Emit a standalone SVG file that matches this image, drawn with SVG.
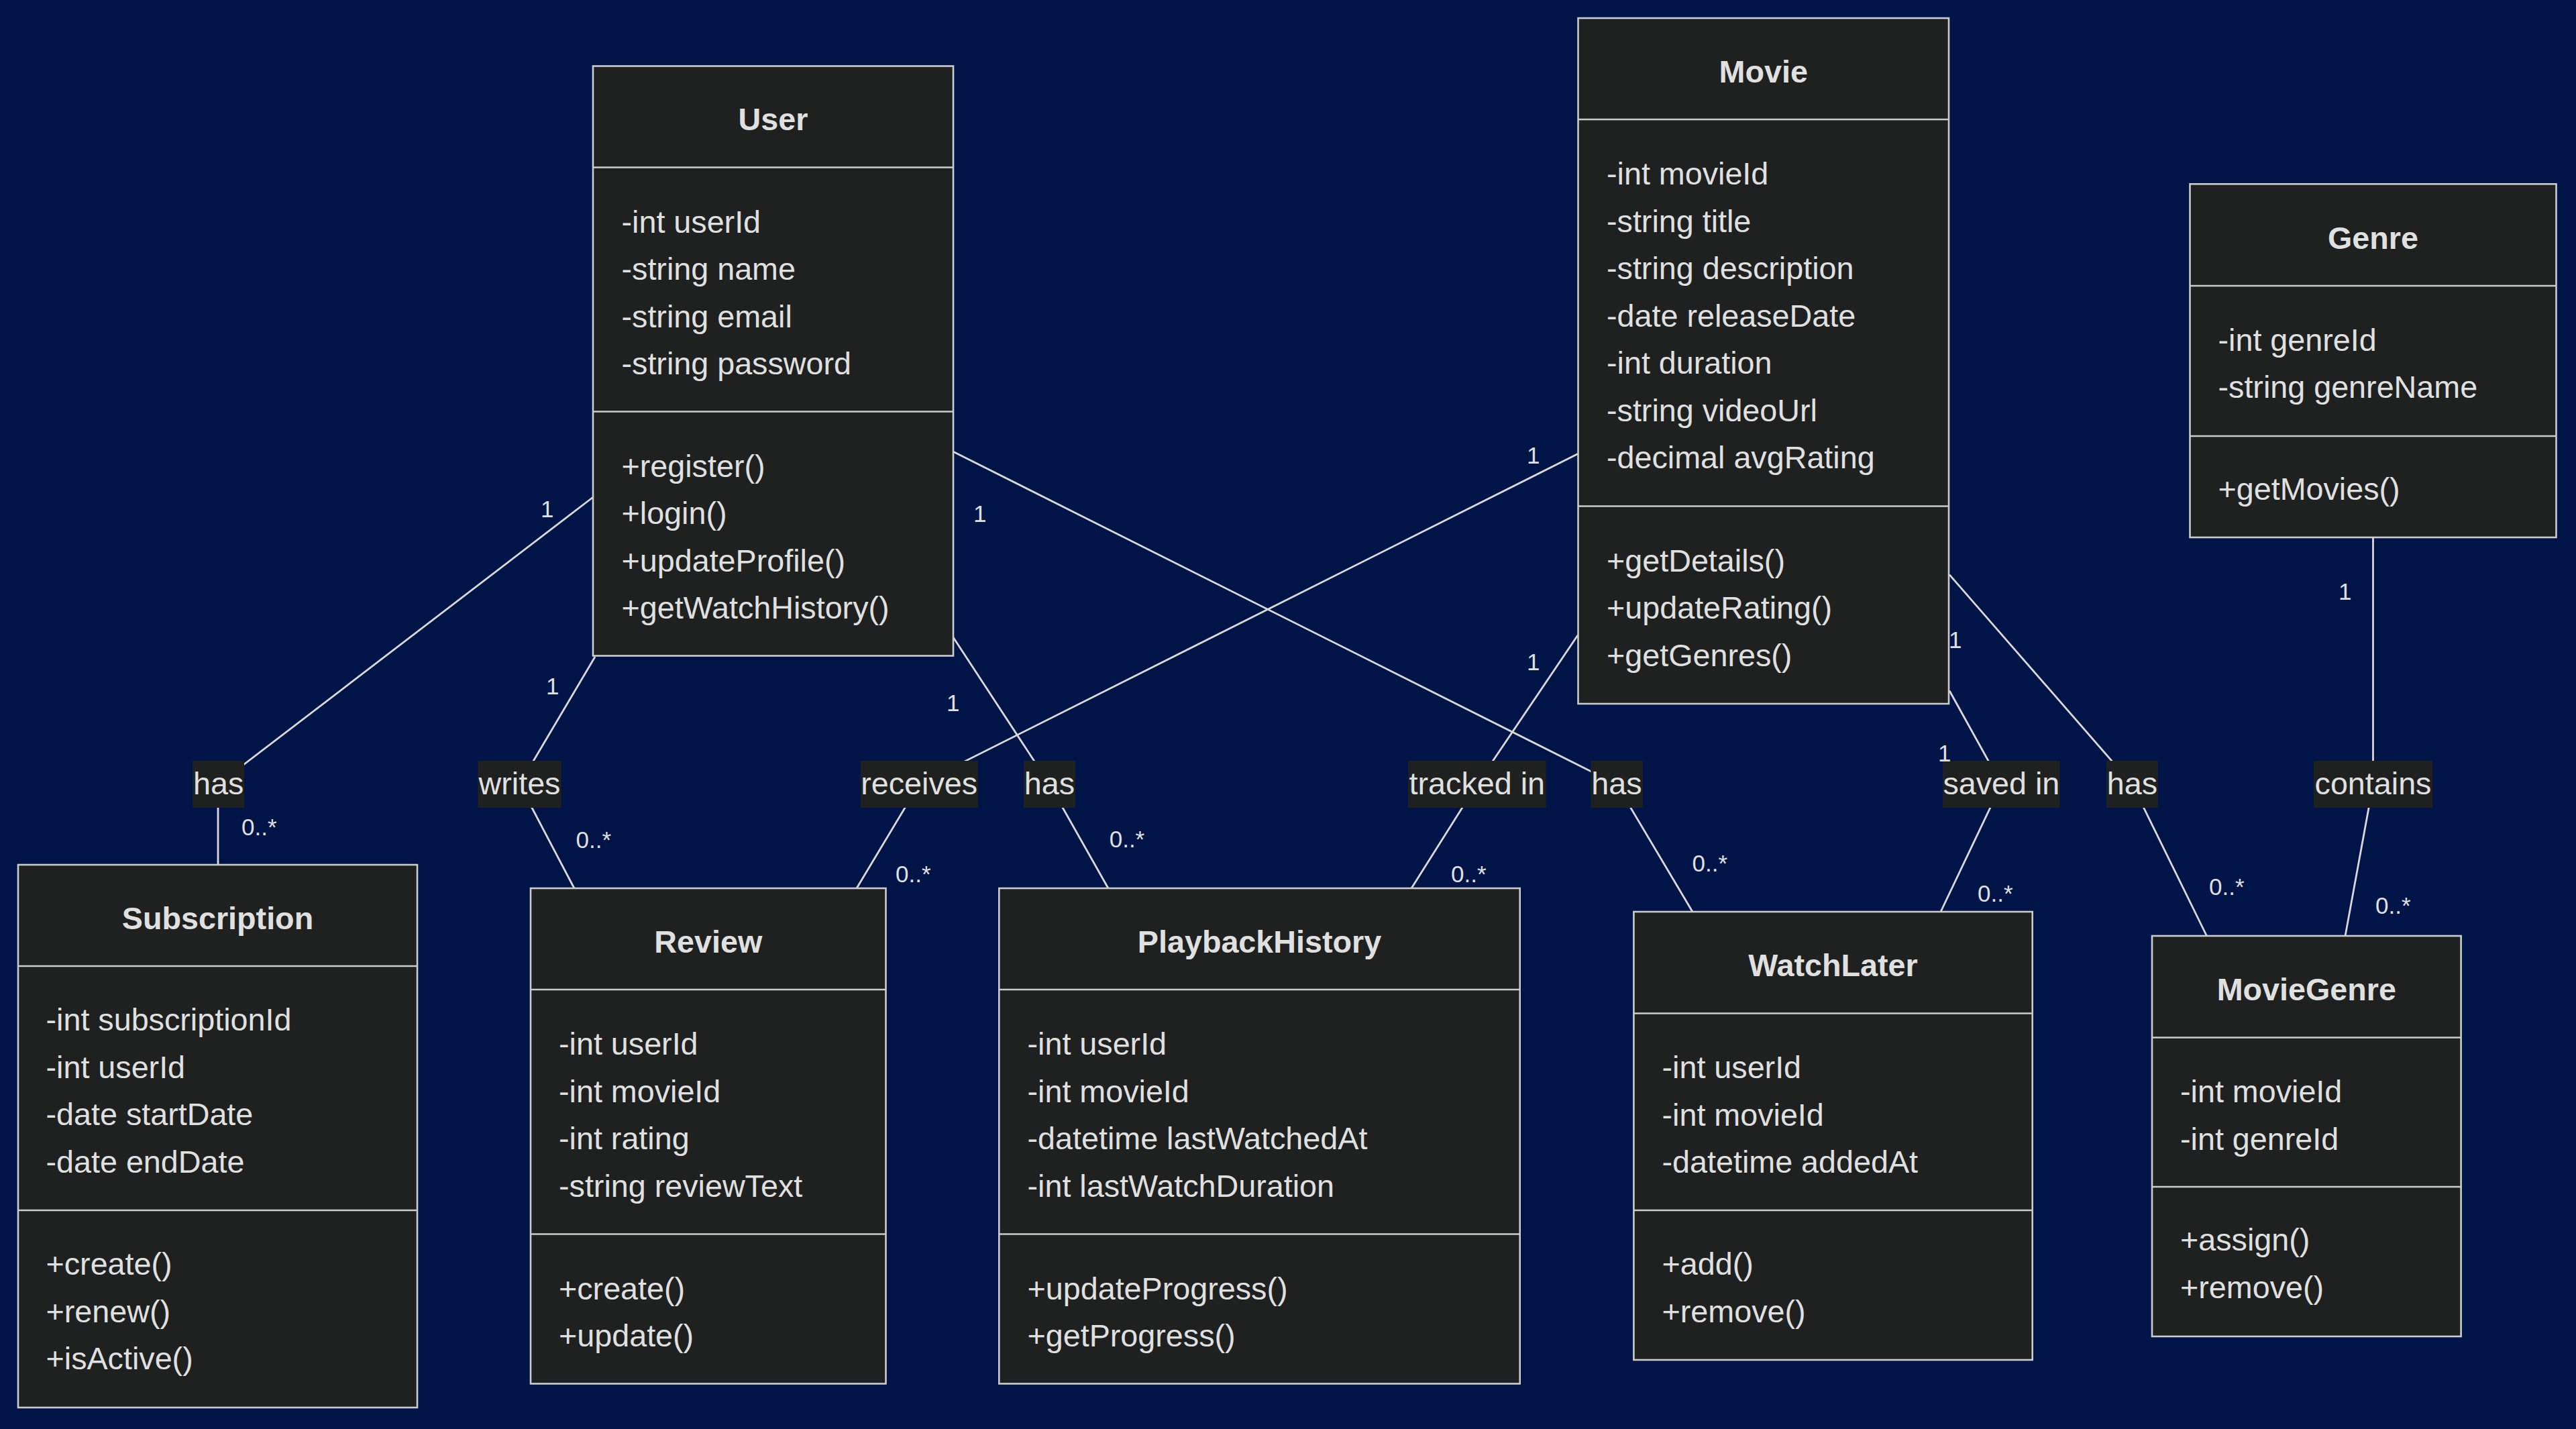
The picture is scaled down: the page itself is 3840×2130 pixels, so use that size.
<svg xmlns="http://www.w3.org/2000/svg" width="3840" height="2130" viewBox="0 0 3840 2130">
<style>
.bg{fill:#001447}
.box{fill:#1f2020;stroke:#cccccc;stroke-width:2.6}
.dv{stroke:#cccccc;stroke-width:2.6}
.t{font-family:"Liberation Sans",Arial,Helvetica,sans-serif;font-size:46.7px;fill:#e0e0e0}
.tb{font-weight:bold;text-anchor:middle}
.edge{fill:none;stroke:#d9d9d9;stroke-width:2.8}
.lr{fill:#1f2020}
.lt{text-anchor:middle}
.m{font-family:"Liberation Sans",Arial,Helvetica,sans-serif;font-size:35px;fill:#e0e0e0}
</style>
<rect class="bg" x="0" y="0" width="3840" height="2130"/>

<g id="connectors">
<polyline class="edge" points="883.5,741.5 325,1169 325,1289"/>
<polyline class="edge" points="887,979 774.5,1169 856,1324"/>
<polyline class="edge" points="2352,676.5 1370,1169 1277,1324"/>
<polyline class="edge" points="1421,950 1564.4,1169 1652,1324"/>
<polyline class="edge" points="2352,946.8 2201.8,1169 2104,1324"/>
<polyline class="edge" points="1421,673.3 2410,1169 2523,1359"/>
<polyline class="edge" points="2906,1029.5 2983.4,1169 2893,1359"/>
<polyline class="edge" points="2906,856.6 3178.4,1169 3289.5,1395"/>
<polyline class="edge" points="3537.5,801 3537.5,1169 3496,1395"/>
</g>

<g id="edge-labels">
<rect class="lr" x="287.3" y="1134" width="76.7" height="70"/>
<text class="t lt" x="325.6" y="1184">has</text>
<rect class="lr" x="712.3" y="1134" width="124.3" height="70"/>
<text class="t lt" x="774.5" y="1184">writes</text>
<rect class="lr" x="1282.7" y="1134" width="175" height="70"/>
<text class="t lt" x="1370.2" y="1184">receives</text>
<rect class="lr" x="1526" y="1134" width="76.7" height="70"/>
<text class="t lt" x="1564.4" y="1184">has</text>
<rect class="lr" x="2099" y="1134" width="205.6" height="70"/>
<text class="t lt" x="2201.8" y="1184">tracked in</text>
<rect class="lr" x="2371.3" y="1134" width="77.5" height="70"/>
<text class="t lt" x="2410" y="1184">has</text>
<rect class="lr" x="2896" y="1134" width="174.7" height="70"/>
<text class="t lt" x="2983.4" y="1184">saved in</text>
<rect class="lr" x="3140" y="1134" width="76.7" height="70"/>
<text class="t lt" x="3178.4" y="1184">has</text>
<rect class="lr" x="3449" y="1134" width="177" height="70"/>
<text class="t lt" x="3537.5" y="1184">contains</text>
</g>

<g id="multiplicities">
<text class="m" x="806" y="770.5">1</text>
<text class="m" x="360" y="1245">0..*</text>
<text class="m" x="814" y="1035">1</text>
<text class="m" x="858.6" y="1264">0..*</text>
<text class="m" x="2276" y="690.6">1</text>
<text class="m" x="1335" y="1315">0..*</text>
<text class="m" x="1411" y="1060">1</text>
<text class="m" x="1653.7" y="1262.8">0..*</text>
<text class="m" x="2276" y="998.6">1</text>
<text class="m" x="2163" y="1315">0..*</text>
<text class="m" x="1451" y="777.5">1</text>
<text class="m" x="2522.6" y="1299">0..*</text>
<text class="m" x="2889" y="1135">1</text>
<text class="m" x="2948" y="1343.7">0..*</text>
<text class="m" x="2905" y="966">1</text>
<text class="m" x="3293" y="1333.5">0..*</text>
<text class="m" x="3486" y="893.7">1</text>
<text class="m" x="3541" y="1361.7">0..*</text>
</g>

<g id="User">
<rect class="box" x="884" y="98.5" width="537" height="879"/>
<line class="dv" x1="884" y1="249.5" x2="1421" y2="249.5"/>
<line class="dv" x1="884" y1="613.5" x2="1421" y2="613.5"/>
<text class="t tb" x="1152.5" y="194">User</text>
<text class="t" x="926.5" y="346.5">-int userId</text>
<text class="t" x="926.5" y="417">-string name</text>
<text class="t" x="926.5" y="487.5">-string email</text>
<text class="t" x="926.5" y="558">-string password</text>
<text class="t" x="926.5" y="710.5">+register()</text>
<text class="t" x="926.5" y="781">+login()</text>
<text class="t" x="926.5" y="851.5">+updateProfile()</text>
<text class="t" x="926.5" y="922">+getWatchHistory()</text>
</g>

<g id="Movie">
<rect class="box" x="2352.5" y="27" width="552.5" height="1022"/>
<line class="dv" x1="2352.5" y1="178" x2="2905" y2="178"/>
<line class="dv" x1="2352.5" y1="754.5" x2="2905" y2="754.5"/>
<text class="t tb" x="2628.75" y="122.5">Movie</text>
<text class="t" x="2395" y="275">-int movieId</text>
<text class="t" x="2395" y="345.5">-string title</text>
<text class="t" x="2395" y="416">-string description</text>
<text class="t" x="2395" y="486.5">-date releaseDate</text>
<text class="t" x="2395" y="557">-int duration</text>
<text class="t" x="2395" y="627.5">-string videoUrl</text>
<text class="t" x="2395" y="698">-decimal avgRating</text>
<text class="t" x="2395" y="851.5">+getDetails()</text>
<text class="t" x="2395" y="922">+updateRating()</text>
<text class="t" x="2395" y="992.5">+getGenres()</text>
</g>

<g id="Genre">
<rect class="box" x="3264.5" y="274.3" width="546" height="526.7"/>
<line class="dv" x1="3264.5" y1="426" x2="3810.5" y2="426"/>
<line class="dv" x1="3264.5" y1="650" x2="3810.5" y2="650"/>
<text class="t tb" x="3537.5" y="370.5">Genre</text>
<text class="t" x="3306.5" y="522.5">-int genreId</text>
<text class="t" x="3306.5" y="593">-string genreName</text>
<text class="t" x="3306.5" y="745">+getMovies()</text>
</g>

<g id="Subscription">
<rect class="box" x="27" y="1289" width="595" height="809"/>
<line class="dv" x1="27" y1="1440" x2="622" y2="1440"/>
<line class="dv" x1="27" y1="1804" x2="622" y2="1804"/>
<text class="t tb" x="324.5" y="1384.5">Subscription</text>
<text class="t" x="68.5" y="1536">-int subscriptionId</text>
<text class="t" x="68.5" y="1606.5">-int userId</text>
<text class="t" x="68.5" y="1677">-date startDate</text>
<text class="t" x="68.5" y="1747.5">-date endDate</text>
<text class="t" x="68.5" y="1900">+create()</text>
<text class="t" x="68.5" y="1970.5">+renew()</text>
<text class="t" x="68.5" y="2041">+isActive()</text>
</g>

<g id="Review">
<rect class="box" x="791" y="1324" width="529.5" height="738.5"/>
<line class="dv" x1="791" y1="1475" x2="1320.5" y2="1475"/>
<line class="dv" x1="791" y1="1839.5" x2="1320.5" y2="1839.5"/>
<text class="t tb" x="1055.75" y="1419.5">Review</text>
<text class="t" x="833" y="1572">-int userId</text>
<text class="t" x="833" y="1642.5">-int movieId</text>
<text class="t" x="833" y="1713">-int rating</text>
<text class="t" x="833" y="1783.5">-string reviewText</text>
<text class="t" x="833" y="1936.5">+create()</text>
<text class="t" x="833" y="2007">+update()</text>
</g>

<g id="PlaybackHistory">
<rect class="box" x="1489.3" y="1324" width="776.4" height="738.5"/>
<line class="dv" x1="1489.3" y1="1475" x2="2265.7" y2="1475"/>
<line class="dv" x1="1489.3" y1="1839.5" x2="2265.7" y2="1839.5"/>
<text class="t tb" x="1877.5" y="1419.5">PlaybackHistory</text>
<text class="t" x="1531.5" y="1572">-int userId</text>
<text class="t" x="1531.5" y="1642.5">-int movieId</text>
<text class="t" x="1531.5" y="1713">-datetime lastWatchedAt</text>
<text class="t" x="1531.5" y="1783.5">-int lastWatchDuration</text>
<text class="t" x="1531.5" y="1936.5">+updateProgress()</text>
<text class="t" x="1531.5" y="2007">+getProgress()</text>
</g>

<g id="WatchLater">
<rect class="box" x="2435.4" y="1359" width="594.3" height="668"/>
<line class="dv" x1="2435.4" y1="1510.5" x2="3029.7" y2="1510.5"/>
<line class="dv" x1="2435.4" y1="1804" x2="3029.7" y2="1804"/>
<text class="t tb" x="2732.5" y="1455">WatchLater</text>
<text class="t" x="2477.5" y="1607">-int userId</text>
<text class="t" x="2477.5" y="1677.5">-int movieId</text>
<text class="t" x="2477.5" y="1748">-datetime addedAt</text>
<text class="t" x="2477.5" y="1900">+add()</text>
<text class="t" x="2477.5" y="1970.5">+remove()</text>
</g>

<g id="MovieGenre">
<rect class="box" x="3208" y="1395" width="460.6" height="597"/>
<line class="dv" x1="3208" y1="1546.5" x2="3668.6" y2="1546.5"/>
<line class="dv" x1="3208" y1="1769" x2="3668.6" y2="1769"/>
<text class="t tb" x="3438.3" y="1491">MovieGenre</text>
<text class="t" x="3250" y="1643">-int movieId</text>
<text class="t" x="3250" y="1713.5">-int genreId</text>
<text class="t" x="3250" y="1864">+assign()</text>
<text class="t" x="3250" y="1934.5">+remove()</text>
</g>
</svg>
